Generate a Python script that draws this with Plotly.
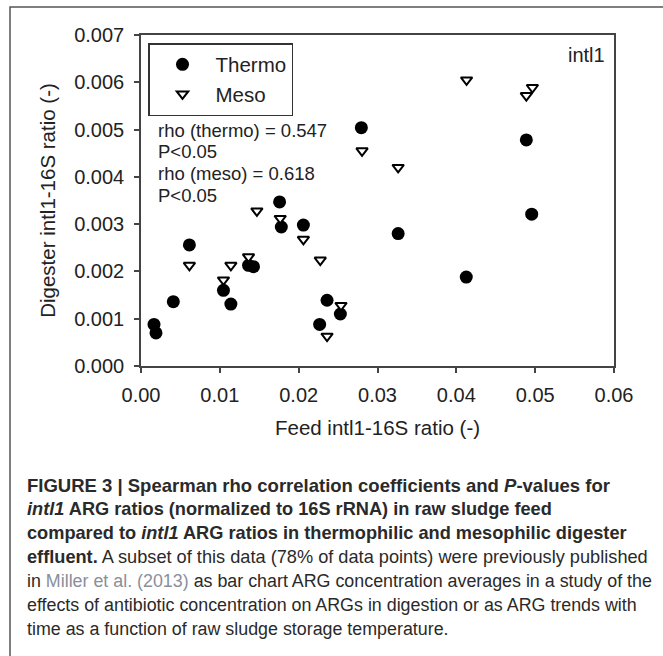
import plotly.graph_objects as go

# ---------------- data ----------------
thermo_x = [0.00165, 0.0019, 0.0041, 0.00614, 0.01046, 0.0114, 0.01364, 0.01427,
            0.01758, 0.0178, 0.0206, 0.02266, 0.0236, 0.02529, 0.02795, 0.03262,
            0.04126, 0.04888, 0.04956]
thermo_y = [0.00088, 0.00070, 0.00136, 0.00256, 0.00160, 0.00131, 0.00213, 0.00210,
            0.00347, 0.00294, 0.00298, 0.00088, 0.00139, 0.00110, 0.00504, 0.00280,
            0.00188, 0.00478, 0.00321]

meso_x = [0.00614, 0.01046, 0.0114, 0.01364, 0.0147, 0.01766, 0.0206, 0.02274,
          0.0236, 0.02537, 0.02804, 0.03262, 0.0413, 0.04888, 0.04965]
meso_y = [0.00213, 0.00182, 0.00213, 0.00231, 0.00328, 0.00312, 0.00268, 0.00224,
          0.00063, 0.00128, 0.00455, 0.00420, 0.00605, 0.00572, 0.00589]

x_ticks = [0.00, 0.01, 0.02, 0.03, 0.04, 0.05, 0.06]
y_ticks = [0.000, 0.001, 0.002, 0.003, 0.004, 0.005, 0.006, 0.007]

stats_lines = ["rho (thermo) = 0.547", "P<0.05", "rho (meso) = 0.618", "P<0.05"]

caption_lines = [
    "<b>FIGURE 3 | Spearman rho correlation coefficients and <i>P</i>-values for</b>",
    "<b><i>intl1</i> ARG ratios (normalized to 16S rRNA) in raw sludge feed</b>",
    "<b>compared to <i>intl1</i> ARG ratios in thermophilic and mesophilic digester</b>",
    "<b>effluent.</b> A subset of this data (78% of data points) were previously published",
    "in <span style='color:#8a8f99'>Miller et al. (2013)</span> as bar chart ARG concentration averages in a study of the",
    "effects of antibiotic concentration on ARGs in digestion or as ARG trends with",
    "time as a function of raw sludge storage temperature.",
]
caption_sizes = [18.5, 18.2, 18.2, 18.2, 17.85, 17.85, 17.85]

# ---------------- layout geometry (pixels) ----------------
W, H = 663, 656
L, R, T, B = 141, 49, 35, 290
PW, PH = W - L - R, H - T - B


def px(x):
    return (x - L) / PW


def py(y):
    return 1 - (y - T) / PH


FONT = "Liberation Sans, Arial, sans-serif"

fig = go.Figure()
fig.add_trace(go.Scatter(
    x=thermo_x, y=thermo_y, mode="markers", name="Thermo",
    marker=dict(symbol="circle", size=13, color="black", line=dict(width=0)),
))
fig.add_trace(go.Scatter(
    x=meso_x, y=meso_y, mode="markers", name="Meso",
    marker=dict(symbol="triangle-down", size=10, color="white",
                line=dict(color="black", width=2)),
))

axis_common = dict(
    showgrid=False, zeroline=False, showline=True, linecolor="#444", linewidth=1.5,
    mirror=True, ticks="outside", ticklen=5, tickwidth=1.5, tickcolor="#444",
    tickfont=dict(family=FONT, size=20, color="#222"),
)

fig.update_xaxes(
    range=[0, 0.06], tickvals=x_ticks, ticktext=[f"{v:.2f}" for v in x_ticks],
    title=dict(text="Feed intl1-16S ratio (-)", font=dict(family=FONT, size=20.5, color="#222"),
               standoff=16),
    ticklabelstandoff=5,
    **axis_common,
)
fig.update_yaxes(
    range=[0, 0.007], tickvals=y_ticks, ticktext=[f"{v:.3f}" for v in y_ticks],
    title=dict(text="Digester intl1-16S ratio (-)", font=dict(family=FONT, size=20.5, color="#222"),
               standoff=13),
    ticklabelstandoff=6,
    **axis_common,
)

annotations = []
stat_y = [130, 151.7, 173.3, 195]
for txt, yy in zip(stats_lines, stat_y):
    annotations.append(dict(
        text=txt, xref="paper", yref="paper", x=px(156), y=py(yy),
        xanchor="left", yanchor="middle", showarrow=False,
        font=dict(family=FONT, size=18.5, color="#222"),
    ))
annotations.append(dict(
    text="intl1", xref="paper", yref="paper", x=px(607), y=py(55),
    xanchor="right", yanchor="middle", showarrow=False,
    font=dict(family=FONT, size=20, color="#222"),
))

cap_y = [485, 509, 533, 557, 581, 605, 629]
for txt, yy, fs in zip(caption_lines, cap_y, caption_sizes):
    annotations.append(dict(
        text=txt, xref="paper", yref="paper", x=px(25), y=py(yy),
        xanchor="left", yanchor="middle", showarrow=False, align="left",
        font=dict(family=FONT, size=fs, color="#2a2a2a"),
    ))

shapes = [dict(
    type="rect", xref="paper", yref="paper",
    x0=px(10), x1=px(680), y0=py(7), y1=py(680),
    line=dict(color="#555", width=1.5), fillcolor="rgba(0,0,0,0)", layer="below",
)]

fig.update_layout(
    width=W, height=H,
    margin=dict(l=L, r=R, t=T, b=B),
    paper_bgcolor="white", plot_bgcolor="white",
    showlegend=True,
    legend=dict(
        x=px(148), y=py(43), xanchor="left", yanchor="top",
        bordercolor="#333", borderwidth=1.5, bgcolor="white",
        font=dict(family=FONT, size=20.5, color="#222"),
        itemwidth=56, tracegroupgap=0,
    ),
    annotations=annotations,
    shapes=shapes,
)

fig.write_html("out.html")
